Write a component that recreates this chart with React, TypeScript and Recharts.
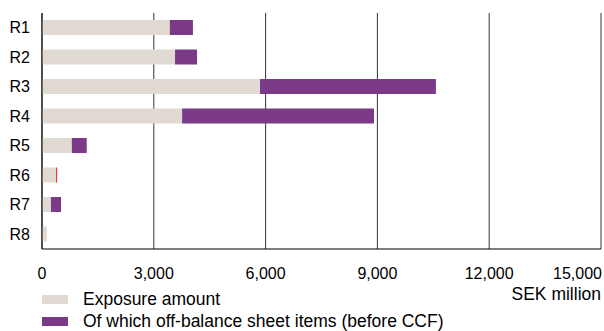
import { BarChart, Bar, XAxis, YAxis, CartesianGrid, Legend, Cell } from "recharts";

const categories = ["R1", "R2", "R3", "R4", "R5", "R6", "R7", "R8"];
const exposure = [3430, 3570, 5850, 3760, 800, 380, 240, 130];
const offBalance = [620, 590, 4720, 5150, 400, 25, 270, 0];
const xTicks = [0, 3000, 6000, 9000, 12000, 15000];

const GREY = "#E0DAD3";
const PURPLE = "#7B3A88";
const FONT = "'Liberation Sans', Arial, Helvetica, sans-serif";

const data = categories.map((name, i) => ({
  name,
  exposure: exposure[i],
  offBalance: offBalance[i],
}));

const XTick = (props: any) => {
  const { x, y, payload, index } = props;
  const last = index === xTicks.length - 1;
  return (
    <text
      x={last ? x + 1 : x}
      y={y}
      dy="0.71em"
      textAnchor={last ? "end" : "middle"}
      fill="#000"
      fontSize={16}
      fontFamily={FONT}
    >
      {Number(payload.value).toLocaleString("en-US")}
    </text>
  );
};

const legendItems = [
  { label: "Exposure amount", color: GREY },
  { label: "Of which off-balance sheet items (before CCF)", color: PURPLE },
];

const renderLegend = () => (
  <div style={{ position: "relative", width: 604, height: 44, fontFamily: FONT, fontSize: 17.5, color: "#000" }}>
    {legendItems.map((item) => (
      <div key={item.label} style={{ display: "flex", alignItems: "center", height: 22, lineHeight: "20px" }}>
        <span style={{ display: "inline-block", width: 26, height: 9, background: item.color, marginLeft: 42, marginRight: 15 }} />
        <span>{item.label}</span>
      </div>
    ))}
    <div style={{ position: "absolute", right: 3, top: -3, lineHeight: "18px" }}>SEK million</div>
  </div>
);

export default function App() {
  return (
    <div style={{ width: 604, height: 331 }}>
      <style>{`body{margin:0}`}</style>
      <BarChart
        width={604}
        height={331}
        data={data}
        layout="vertical"
        margin={{ top: 13, right: 3, bottom: 52, left: 0 }}
        barSize={15}
      >
        <CartesianGrid horizontal={false} stroke="#333" strokeWidth={1} />
        <XAxis
          type="number"
          domain={[0, 15000]}
          ticks={xTicks}
          interval={0}
          height={30}
          tickLine={false}
          axisLine={{ stroke: "#000" }}
          tickMargin={13}
          tick={<XTick />}
        />
        <YAxis
          type="category"
          dataKey="name"
          width={42}
          tickLine={false}
          axisLine={{ stroke: "#000" }}
          tickMargin={6}
          tick={{ fill: "#000", fontSize: 16, fontFamily: FONT }}
        />
        <Legend
          layout="horizontal"
          verticalAlign="middle"
          align="center"
          content={renderLegend}
          wrapperStyle={{ left: 0, top: 288, width: 604 }}
        />
        <Bar dataKey="exposure" stackId="a" fill={GREY} isAnimationActive={false} />
        <Bar dataKey="offBalance" stackId="a" fill={PURPLE} isAnimationActive={false}>
          {data.map((d) => (
            <Cell key={d.name} fill={d.name === "R6" ? "#E8141B" : PURPLE} />
          ))}
        </Bar>
      </BarChart>
    </div>
  );
}
